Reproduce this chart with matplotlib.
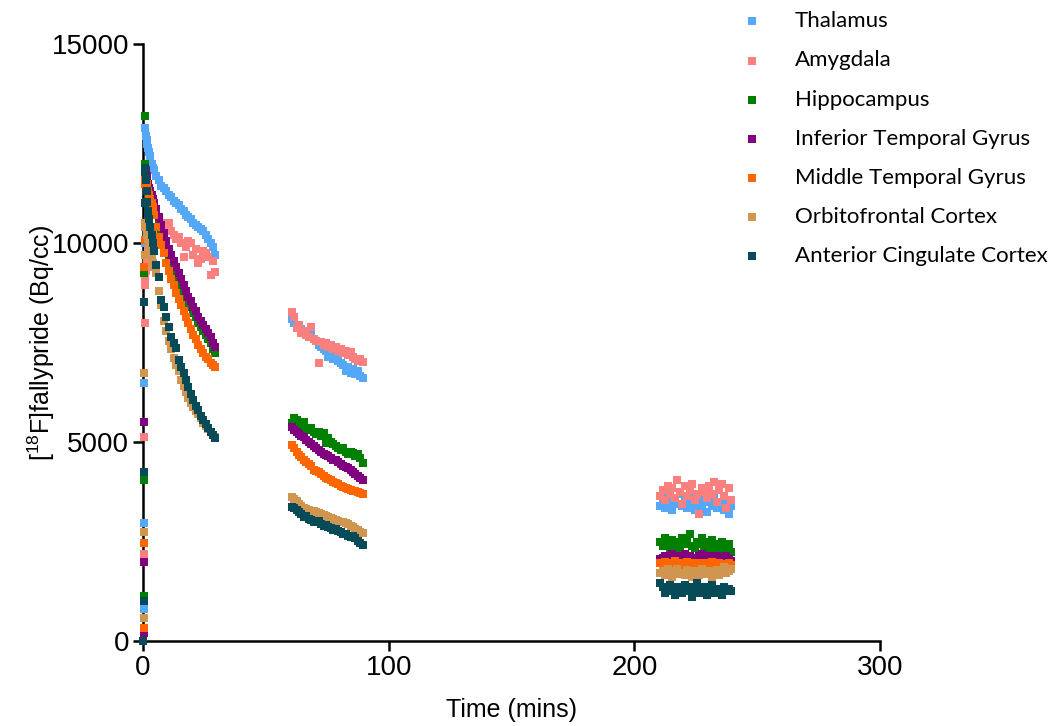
import matplotlib

matplotlib.use("Agg")
import matplotlib.pyplot as plt
import numpy as np

plt.rcParams["font.family"] = ["Liberation Sans", "DejaVu Sans"]
plt.rcParams["mathtext.fontset"] = "custom"
plt.rcParams["mathtext.rm"] = "Liberation Sans"

# frame mid times (mins): scan 1, scan 2, scan 3
TIMES_1 = [0.1, 0.25, 0.4, 0.55, 0.7, 0.85, 1.0, 1.25, 1.5, 1.75, 2.0, 2.5, 3.0, 3.5, 4.0, 4.5,
           5.5, 6.5, 7.5, 8.5, 9.5, 10.5, 11.5, 12.5, 13.5, 14.5, 15.5, 16.5, 17.5, 18.5, 19.5,
           20.5, 21.5, 22.5, 23.5, 24.5, 25.5, 26.5, 27.5, 28.5, 29.5]
TIMES_2 = [60.5, 61.5, 62.5, 63.5, 64.5, 65.5, 66.5, 67.5, 68.5, 69.5, 70.5, 71.5, 72.5, 73.5, 74.5,
           75.5, 76.5, 77.5, 78.5, 79.5, 80.5, 81.5, 82.5, 83.5, 84.5, 85.5, 86.5, 87.5, 88.5, 89.5]
TIMES_3 = [210.5, 211.5, 212.5, 213.5, 214.5, 215.5, 216.5, 217.5, 218.5, 219.5, 220.5, 221.5,
           222.5, 223.5, 224.5, 225.5, 226.5, 227.5, 228.5, 229.5, 230.5, 231.5, 232.5, 233.5,
           234.5, 235.5, 236.5, 237.5, 238.5, 239.5]

THALAMUS = [
    0, 800, 2965, 6480, 10000, 11800, 12900, 12700, 12600, 12500, 12400, 12300, 12200, 12000, 11900, 11850,
    11700, 11600, 11450, 11400, 11300, 11200, 11150, 11050, 11000, 10950, 10850, 10800, 10700, 10650, 10600,
    10500, 10450, 10400, 10350, 10300, 10200, 10100, 10000, 9900, 9700,
    8100, 8000, 7950, 7900, 7850, 7750, 7700, 7650, 7700, 7600, 7550, 7450, 7400, 7350, 7300,
    7150, 7150, 7100, 7150, 7050, 7000, 6950, 6800, 6900, 6750, 6850, 6700, 6800, 6650, 6600,
    3400, 3550, 3350, 3650, 3500, 3300, 3600, 3450, 3700, 3400, 3550, 3350, 3500, 3650, 3300,
    3450, 3600, 3400, 3500, 3250, 3550, 3400, 3600, 3350, 3500, 3450, 3300, 3550, 3200, 3400,
]
AMYGDALA = [
    0, 300, 2200, 5125, 8000, 8940, 9120, 9300, 9500, 9700, 9800, 9900, 10000, 10100, 10200, 10300,
    10350, 10400, 10450, 10500, 10400, 10500, 10300, 10200, 10100, 10150, 10000, 9650, 9900, 10050, 10000,
    9700, 9850, 9500, 9600, 9800, 9750, 9650, 9200, 9550, 9270,
    8270, 8140, 7860, 7950, 7740, 7800, 7700, 7650, 7890, 7600, 7550, 6980, 7510, 7450, 7500,
    7400, 7450, 7350, 7390, 7300, 7350, 7250, 7300, 7200, 7260, 7150, 7100, 7050, 7100, 7010,
    3650, 3800, 3550, 3900, 3700, 3850, 3600, 4050, 3750, 3450, 3900, 3650, 3800, 3950, 3550,
    3700, 3200, 3850, 3750, 3600, 3900, 3700, 4000, 3500, 3800, 3950, 3650, 3350, 3850, 3550,
]
HIPPOCAMPUS = [
    0, 1130, 4045, 9250, 13200, 12000, 11800, 11700, 11600, 11550, 11500, 11400, 11300, 11200, 11050, 10900,
    10700, 10500, 10300, 10100, 9900, 9700, 9550, 9400, 9250, 9100, 8950, 8800, 8650, 8500, 8400,
    8250, 8150, 8000, 7900, 7800, 7700, 7600, 7500, 7350, 7250,
    5480, 5600, 5550, 5450, 5400, 5500, 5350, 5300, 5350, 5250, 5200, 5250, 5150, 5225, 4975,
    5100, 5000, 4950, 4900, 4850, 4800, 4850, 4750, 4700, 4750, 4720, 4650, 4700, 4600, 4470,
    2500, 2400, 2600, 2450, 2350, 2550, 2400, 2500, 2300, 2600, 2450, 2550, 2700, 2400, 2350,
    2500, 2450, 2600, 2400, 2300, 2500, 2550, 2350, 2450, 2300, 2500, 2400, 2350, 2450, 2250,
]
INF_TEMPORAL = [
    0, 200, 1985, 5500, 10500, 11800, 11900, 11850, 11700, 11600, 11500, 11400, 11300, 11200, 11100, 11000,
    10850, 10650, 10450, 10250, 10050, 9850, 9700, 9550, 9400, 9250, 9100, 8950, 8800, 8650, 8550,
    8400, 8300, 8150, 8050, 7950, 7850, 7750, 7650, 7500, 7400,
    5380, 5300, 5250, 5200, 5150, 5125, 5050, 5000, 4950, 4900, 4850, 4800, 4750, 4700, 4680,
    4640, 4600, 4560, 4550, 4500, 4450, 4400, 4380, 4350, 4300, 4250, 4200, 4150, 4100, 4045,
    2050, 2100, 2150, 2000, 2100, 2200, 2050, 2150, 2100, 2050, 2200, 2100, 2150, 2000, 2100,
    2050, 2150, 2200, 2100, 2050, 2150, 2100, 2000, 2150, 2100, 2050, 2100, 2150, 2050, 2000,
]
MID_TEMPORAL = [
    0, 330, 2460, 9400, 10080, 11500, 11700, 11600, 11500, 11400, 11300, 11200, 11100, 11000, 10900, 10700,
    10400, 10150, 9950, 9750, 9500, 9300, 9100, 8950, 8750, 8600, 8450, 8300, 8150, 8000, 7850,
    7700, 7600, 7450, 7350, 7250, 7150, 7100, 7000, 6950, 6880,
    4925, 4850, 4750, 4680, 4620, 4550, 4500, 4450, 4400, 4300, 4280, 4240, 4200, 4150, 4100,
    4080, 4045, 4000, 3980, 3950, 3900, 3880, 3845, 3820, 3800, 3780, 3760, 3740, 3720, 3700,
    1950, 1900, 1980, 1920, 1880, 1950, 2000, 1900, 1950, 1870, 1920, 1980, 1900, 1950, 1850,
    1930, 1970, 1900, 1880, 1950, 1920, 1990, 1900, 1860, 1950, 1900, 1930, 1880, 1950, 1900,
]
ORBITOFRONTAL = [
    0, 580, 2740, 6730, 9700, 10400, 10500, 10450, 10300, 10200, 10100, 9950, 9800, 9700, 9500, 9400,
    9250, 8800, 8450, 8050, 7800, 7550, 7350, 7110, 6950, 6800, 6550, 6400, 6250, 6100, 5980,
    5880, 5780, 5700, 5600, 5480, 5400, 5320, 5250, 5175, 5120,
    3620, 3580, 3520, 3450, 3400, 3350, 3320, 3300, 3280, 3260, 3240, 3220, 3200, 3180, 3150,
    3120, 3090, 3070, 3050, 3020, 3000, 2980, 2960, 2940, 2900, 2860, 2820, 2780, 2740, 2710,
    1700, 1750, 1650, 1800, 1700, 1620, 1750, 1800, 1680, 1720, 1650, 1780, 1700, 1600, 1750,
    1700, 1650, 1800, 1720, 1680, 1750, 1600, 1700, 1780, 1650, 1720, 1850, 1700, 1750, 1800,
]
ANT_CINGULATE = [
    0, 1000, 4246, 8518, 11000, 11900, 11800, 11600, 11300, 11030, 10800, 10600, 10400, 10200, 10000, 9800,
    9450, 9150, 8570, 8400, 8140, 7900, 7640, 7500, 7360, 7060, 6900, 6730, 6550, 6380, 6200,
    6055, 5900, 5800, 5650, 5550, 5450, 5350, 5250, 5180, 5100,
    3370, 3350, 3300, 3250, 3200, 3115, 3150, 3080, 3050, 3000, 2990, 3020, 2950, 2900, 2920,
    2870, 2840, 2790, 2820, 2760, 2740, 2700, 2680, 2650, 2610, 2630, 2580, 2520, 2470, 2410,
    1450, 1350, 1200, 1300, 1400, 1250, 1150, 1350, 1300, 1200, 1400, 1250, 1350, 1100, 1300,
    1450, 1200, 1250, 1350, 1150, 1300, 1400, 1200, 1250, 1300, 1150, 1350, 1250, 1300, 1250,
]

REGIONS = [
    ("Thalamus", THALAMUS, "#55A8F8"),
    ("Amygdala", AMYGDALA, "#FA8080"),
    ("Hippocampus", HIPPOCAMPUS, "#008000"),
    ("Inferior Temporal Gyrus", INF_TEMPORAL, "#800080"),
    ("Middle Temporal Gyrus", MID_TEMPORAL, "#FF6600"),
    ("Orbitofrontal Cortex", ORBITOFRONTAL, "#D09650"),
    ("Anterior Cingulate Cortex", ANT_CINGULATE, "#064B57"),
]


def main() -> None:
    times = np.array(TIMES_1 + TIMES_2 + TIMES_3)
    fig = plt.figure(figsize=(10.59, 7.26), dpi=100)
    ax = fig.add_axes([0.135, 0.117, 0.696, 0.822])

    for name, values, color in REGIONS:
        ax.scatter(times, values, marker="s", s=36, color=color, linewidths=0,
                   clip_on=False, zorder=3, label=name)

    ax.set_xlim(0, 300)
    ax.set_ylim(0, 15000)
    ax.set_xticks([0, 100, 200, 300])
    ax.set_yticks([0, 5000, 10000, 15000])
    for side in ("top", "right"):
        ax.spines[side].set_visible(False)
    for side in ("left", "bottom"):
        ax.spines[side].set_linewidth(1.8)
    ax.tick_params(width=1.8, length=7, labelsize=20, pad=3)
    ax.set_xlabel("Time (mins)", fontsize=18, labelpad=12)
    ax.set_ylabel(r"[$^{18}$F]fallypride (Bq/cc)", fontsize=18, labelpad=-4)

    ax.legend(loc="upper left", bbox_to_anchor=(0.681, 1.012), bbox_transform=fig.transFigure,
              frameon=False, handlelength=1.0, handletextpad=1.4, labelspacing=0.86,
              scatterpoints=1, markerscale=0.85,
              prop={"family": ["Lato", "DejaVu Sans"], "size": 16})

    fig.savefig("out.png", dpi=100)
    plt.close(fig)


if __name__ == "__main__":
    main()
